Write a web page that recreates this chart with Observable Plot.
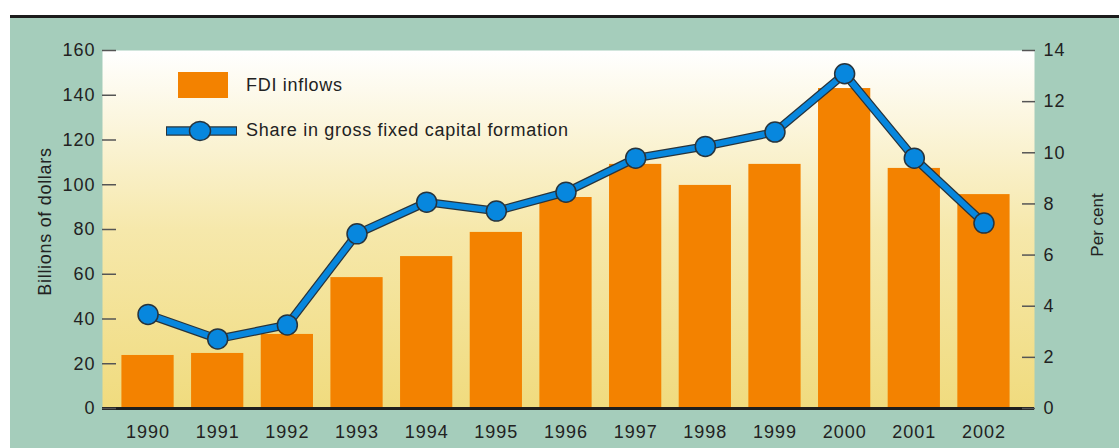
<!DOCTYPE html>
<html><head><meta charset="utf-8">
<script src="https://cdn.jsdelivr.net/npm/d3@7"></script>
<script src="https://cdn.jsdelivr.net/npm/@observablehq/plot@0.6"></script>
<style>
body{margin:0;background:#fff;}
#wrap{position:relative;width:1119px;height:448px;overflow:hidden;font-family:"Liberation Sans",Arial,sans-serif;}
#teal{position:absolute;left:10px;right:0;top:17px;bottom:0;background:#a5cdbb;}
#topline{position:absolute;left:10px;right:0;top:15px;height:2.5px;background:#1c1c1c;}
#chart{position:absolute;left:0;top:0;width:1119px;height:448px;}
#chart svg, svg.leg{position:absolute;left:0;top:0;max-width:none;}
</style></head>
<body><div id="wrap"><div id="teal"></div><div id="topline"></div><div id="chart"></div></div>
<script>
const years = ["1990","1991","1992","1993","1994","1995","1996","1997","1998","1999","2000","2001","2002"];
const fdiInflows = [23.7, 24.6, 33.1, 58.5, 67.9, 78.7, 94.3, 109.1, 99.7, 109.1, 143.0, 107.3, 95.6];
const gfcfShare = [3.68, 2.72, 3.27, 6.83, 8.07, 7.72, 8.46, 9.79, 10.25, 10.81, 13.09, 9.79, 7.25];
const leftTicks = [0, 20, 40, 60, 80, 100, 120, 140, 160];
const rightTicks = [0, 2, 4, 6, 8, 10, 12, 14];
const leftTitle = "Billions of dollars";
const rightTitle = "Per cent";
const legendLabels = ["FDI inflows", "Share in gross fixed capital formation"];

const ORANGE = "#f38200", BLUE = "#0787de", OUTLINE = "#27343d", TEXT = "#222";
const leftMax = 160, rightMax = 14, k = leftMax / rightMax;
const data = years.map((y, i) => ({year: y, fdi: fdiInflows[i], shareScaled: gfcfShare[i] * k}));

const chart = Plot.plot({
  width: 1119, height: 448,
  marginTop: 50, marginBottom: 40, marginLeft: 102, marginRight: 85,
  style: {background: "transparent", fontFamily: '"Liberation Sans", Arial, sans-serif', fontSize: "18px", color: TEXT, overflow: "visible", maxWidth: "none"},
  x: {type: "band", domain: years, padding: 0.25, round: false, insetLeft: 2, insetRight: 7, label: null},
  y: {domain: [0, leftMax], label: null},
  marks: [
    Plot.frame({fill: "url(#bgGrad)", stroke: "none"}),
    Plot.barY(data, {x: "year", y: "fdi", fill: ORANGE}),
    Plot.ruleY([0], {stroke: "#1e1e1e", strokeWidth: 3}),
    Plot.axisY(leftTicks, {anchor: "left", tickSize: 0, tickPadding: 7, label: null, fill: TEXT}),
    Plot.axisY(leftTicks, {anchor: "left", tickSize: -14, tickFormat: () => "", label: null, stroke: "#555", strokeWidth: 1.5}),
    Plot.axisY(rightTicks.map(v => v * k), {anchor: "right", tickSize: 0, tickPadding: 9, tickFormat: d => String(Math.round(d / k)), label: null, fill: TEXT}),
    Plot.axisY(rightTicks.map(v => v * k), {anchor: "right", tickSize: -13, tickFormat: () => "", label: null, stroke: "#555", strokeWidth: 1.5}),
    Plot.axisX({tickSize: 0, tickPadding: 17, label: null, fill: TEXT}),
    Plot.line(data, {x: "year", y: "shareScaled", stroke: OUTLINE, strokeWidth: 8.5}),
    Plot.line(data, {x: "year", y: "shareScaled", stroke: BLUE, strokeWidth: 6}),
    Plot.dot(data, {x: "year", y: "shareScaled", r: 10, fill: BLUE, stroke: OUTLINE, strokeWidth: 1.5}),
    Plot.text([leftTitle], {text: d => d, frameAnchor: "left", rotate: -90, dx: -57, dy: -8, textAnchor: "middle", fontSize: 18, fill: TEXT}),
    Plot.text([rightTitle], {text: d => d, frameAnchor: "right", rotate: -90, dx: 63.5, dy: -4.5, textAnchor: "middle", fontSize: 17, fill: TEXT})
  ]
});

d3.select(chart).insert("defs", ":first-child").html(
  '<linearGradient id="bgGrad" x1="0" y1="0" x2="0" y2="1">' +
  '<stop offset="0" stop-color="#ffffff"/><stop offset="0.5" stop-color="#f6e8ab"/><stop offset="1" stop-color="#f0db7e"/></linearGradient>');
d3.select(chart).selectAll("text").style("letter-spacing", "1px");
d3.select(chart).selectAll("text").filter(function(){ return this.textContent === leftTitle; }).style("letter-spacing", "0.7px");
d3.select(chart).selectAll("text").filter(function(){ return this.textContent === rightTitle; }).style("letter-spacing", "0px");
document.getElementById("chart").appendChild(chart);

// Legend
const leg = d3.select("#wrap").append("svg").attr("class", "leg").attr("width", 1119).attr("height", 448)
  .style("font-family", '"Liberation Sans", Arial, sans-serif').style("font-size", "18px");
leg.append("rect").attr("x", 178).attr("y", 72).attr("width", 50).attr("height", 26).attr("fill", ORANGE);
leg.append("text").attr("x", 246).attr("y", 85).attr("dominant-baseline", "central").attr("fill", TEXT)
  .style("letter-spacing", "0.7px").text(legendLabels[0]);
leg.append("line").attr("x1", 166).attr("x2", 237).attr("y1", 131).attr("y2", 131).attr("stroke", OUTLINE).attr("stroke-width", 9.5);
leg.append("line").attr("x1", 167).attr("x2", 236).attr("y1", 131).attr("y2", 131).attr("stroke", BLUE).attr("stroke-width", 7);
leg.append("ellipse").attr("cx", 200).attr("cy", 131).attr("rx", 10.5).attr("ry", 9.5).attr("fill", BLUE).attr("stroke", OUTLINE).attr("stroke-width", 1.5);
leg.append("text").attr("x", 246).attr("y", 130).attr("dominant-baseline", "central").attr("fill", TEXT)
  .style("letter-spacing", "0.7px").text(legendLabels[1]);
</script>
</body></html>
